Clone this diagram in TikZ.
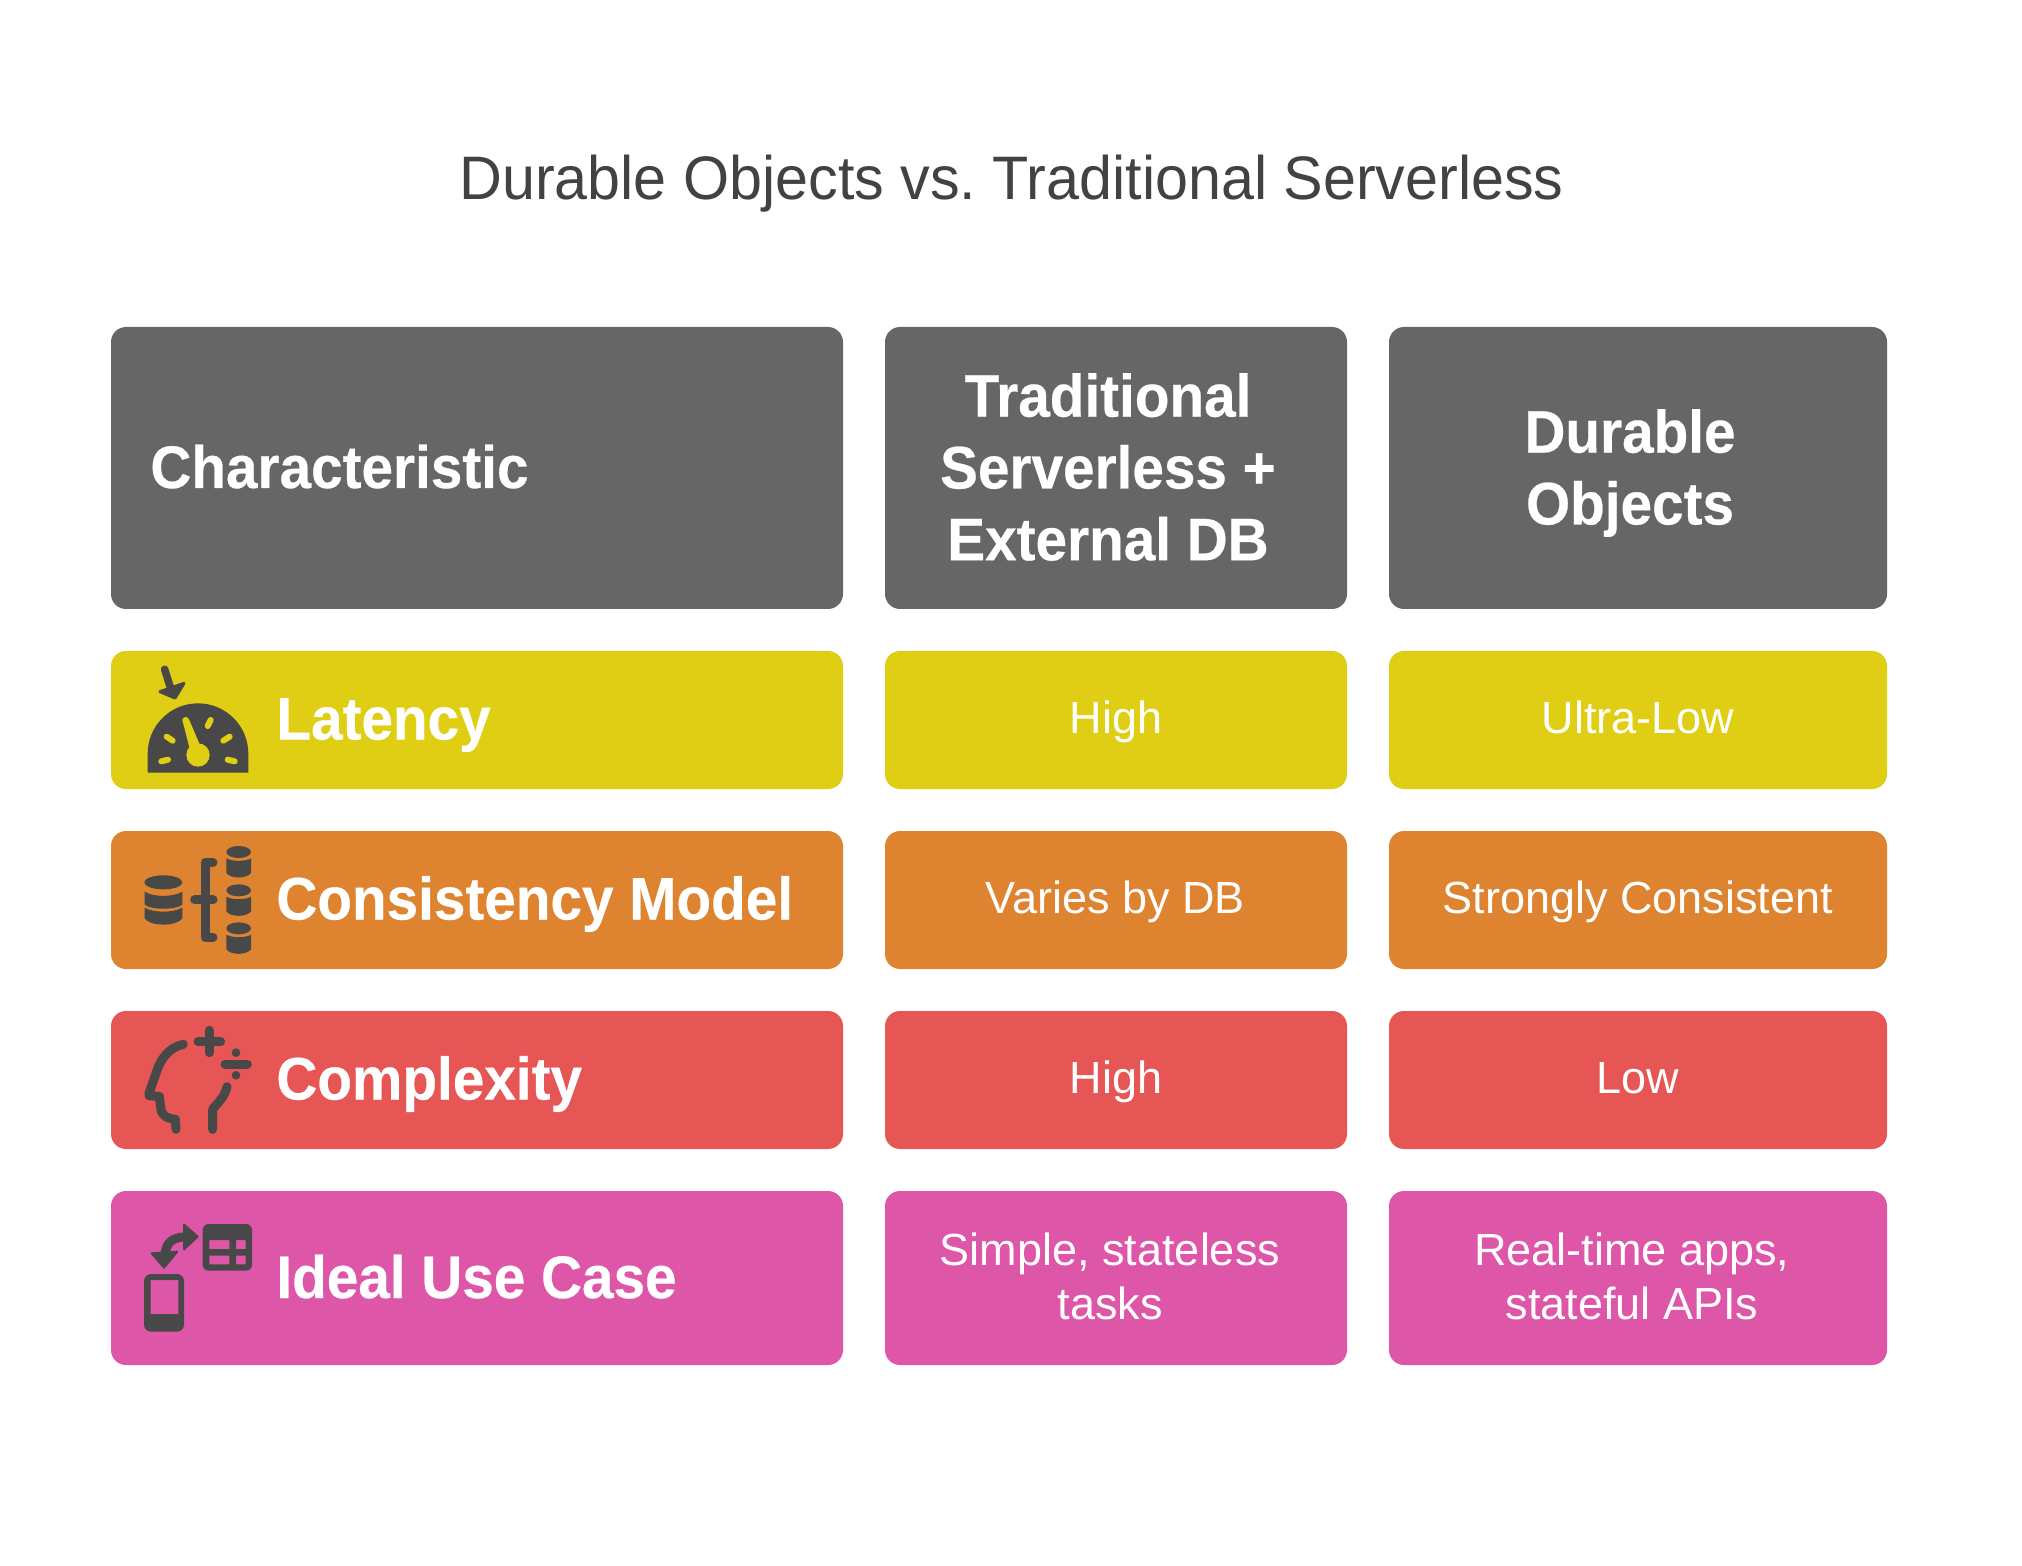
\documentclass[tikz,border=0pt]{standalone}
\usepackage{fontspec}
\setmainfont[BoldFeatures={FakeStretch=.945,FakeBold=.4}]{Liberation Sans}
\newfontfamily\titlefont[FakeStretch=.965]{Liberation Sans}
\frenchspacing
\definecolor{titlegray}{HTML}{424242}
\definecolor{icongray}{HTML}{484848}
\definecolor{headgray}{HTML}{666666}
\definecolor{latyellow}{HTML}{E0CE14}
\definecolor{consorange}{HTML}{DE8430}
\definecolor{compred}{HTML}{E65655}
\definecolor{usepink}{HTML}{DE56A8}
\tikzset{
  cellbox/.style={fill=#1,rounded corners=7.5pt},
  headtext/.style={text=white,font=\bfseries\fontsize{30}{35.9}\selectfont,align=center,inner sep=0pt},
  keytext/.style={text=white,font=\bfseries\fontsize{30}{35.9}\selectfont,anchor=base west,inner sep=0pt},
  celltext/.style={text=white,font=\fontsize{22.5}{27}\selectfont,align=center,inner sep=0pt},
  iconfill/.style={fill=icongray,draw=none},
  iconline/.style={draw=icongray,line width=4.5pt,line cap=round,line join=round},
  iconzoom/.style={shift={#1},x=.16667pt,y=-.16667pt}
}
\begin{document}
\begin{tikzpicture}[x=.5pt,y=-.5pt]
  \fill[white,use as bounding box] (0,0) rectangle (2022,1566);
  \node[text=titlegray,font=\titlefont\fontsize{30.7}{34}\selectfont,inner sep=0pt,anchor=base] (title) at (1011.5,200) {Durable Objects vs. Traditional Serverless};
  % header row
  \fill[cellbox=headgray] (111,327) rectangle (843,609);
  \fill[cellbox=headgray] (885,327) rectangle (1347,609);
  \fill[cellbox=headgray] (1389,327) rectangle (1887,609);
  \node[keytext] (charhead) at (150,488) {Characteristic};
  \node[headtext] (tradhead) at (1108,467) {Traditional\\Serverless +\\External DB};
  \node[headtext] (durhead) at (1630,473) {Durable\\Objects};
  % rows
  \fill[cellbox=latyellow] (111,651) rectangle (843,789);
  \fill[cellbox=latyellow] (885,651) rectangle (1347,789);
  \fill[cellbox=latyellow] (1389,651) rectangle (1887,789);
  \fill[cellbox=consorange] (111,831) rectangle (843,969);
  \fill[cellbox=consorange] (885,831) rectangle (1347,969);
  \fill[cellbox=consorange] (1389,831) rectangle (1887,969);
  \fill[cellbox=compred] (111,1011) rectangle (843,1149);
  \fill[cellbox=compred] (885,1011) rectangle (1347,1149);
  \fill[cellbox=compred] (1389,1011) rectangle (1887,1149);
  \fill[cellbox=usepink] (111,1191) rectangle (843,1365);
  \fill[cellbox=usepink] (885,1191) rectangle (1347,1365);
  \fill[cellbox=usepink] (1389,1191) rectangle (1887,1365);
  \node[keytext] (latkey) at (276,739.5) {Latency};
  \node[keytext] (conskey) at (276,919.5) {Consistency Model};
  \node[keytext] (compkey) at (276,1099.5) {Complexity};
  \node[keytext] (usekey) at (276,1298) {Ideal Use Case};
  \node[celltext,anchor=base] (lattrad) at (1116,733.5) {High};
  \node[celltext,anchor=base] (latdur) at (1638,733.5) {Ultra-Low};
  \node[celltext,anchor=base] (constrad) at (1115,913.5) {Varies by DB};
  \node[celltext,anchor=base] (consdur) at (1638,913.5) {Strongly Consistent};
  \node[celltext,anchor=base] (comptrad) at (1116,1093.5) {High};
  \node[celltext,anchor=base] (compdur) at (1638,1093.5) {Low};
  \node[celltext] (usetrad) at (1110,1276) {Simple, stateless\\tasks};
  \node[celltext] (usedur) at (1632,1276) {Real-time apps,\\stateful APIs};
  % latency icon
  \begin{scope}[iconzoom={(100,640)}]
    \fill[iconfill] (143,398) -- (143,341) arc[start angle=180,end angle=360,radius=151] -- (445,398) -- cycle;
    \fill[latyellow] (294,345) circle (35);
    \fill[latyellow] (247,240) .. controls (250,228) and (264,228) .. (268,240) -- (304,325) -- (270,330) -- cycle;
    \draw[latyellow,line width=3pt,line cap=round] (184,364) -- (204,359);
    \draw[latyellow,line width=3pt,line cap=round] (200,290) -- (218,302);
    \draw[latyellow,line width=3pt,line cap=round] (332,240) -- (323,258);
    \draw[latyellow,line width=3pt,line cap=round] (389,290) -- (370,302);
    \draw[latyellow,line width=3pt,line cap=round] (383,359) -- (404,364);
    \draw[iconline,line width=3.8pt] (194,88) -- (212,145);
    \fill[iconfill,draw=icongray,line width=1.5pt,line join=round] (180,155) -- (252,130) -- (225,174) -- cycle;
  \end{scope}
  % consistency icon
  \begin{scope}[iconzoom={(100,830)}]
    \fill[iconfill] (190,157) ellipse (57 and 21);
    \fill[iconfill] (134,185) .. controls (160,202) and (220,202) .. (247,185) -- (247,224) .. controls (230,240) and (150,240) .. (134,224) -- cycle;
    \fill[iconfill] (134,233) .. controls (160,249) and (220,249) .. (247,233) -- (247,265) .. controls (230,290) and (150,290) .. (134,265) -- cycle;
    \foreach \cy in {66,181,295} {
      \fill[iconfill] (416,\cy) ellipse (37 and 18);
      \fill[iconfill] (379,\cy+19) .. controls (395,\cy+29) and (437,\cy+29) .. (453,\cy+19) -- (453,\cy+63) .. controls (440,\cy+81) and (392,\cy+81) .. (379,\cy+63) -- cycle;
    }
    \draw[iconline] (339,97) -- (315,97) -- (315,322) -- (339,322);
    \draw[iconline] (284,209) -- (339,209);
  \end{scope}
  % complexity icon
  \begin{scope}[iconzoom={(100,1010)}]
    \draw[iconline] (250,103) .. controls (205,112) and (180,150) .. (168,190) -- (147,250) -- (147,257) -- (178,259) -- (183,300) .. controls (190,322) and (205,325) .. (226,328) -- (228,358);
    \draw[iconline] (381,230) .. controls (372,265) and (355,275) .. (338,298) -- (338,358);
    \draw[iconline] (294,95) -- (362,95);
    \draw[iconline] (328,61) -- (328,128);
    \draw[iconline] (375,162) -- (442,162);
    \fill[iconfill] (408,128) circle (13);
    \fill[iconfill] (408,196) circle (13);
  \end{scope}
  % use case icon
  \begin{scope}[iconzoom={(100,1200)}]
    \fill[iconfill,even odd rule,rounded corners=3pt] (308,72) rectangle (456,212) (328,120) [sharp corners] rectangle (388,147) (408,120) rectangle (437,147) (328,167) rectangle (388,193) (408,167) rectangle (437,193);
    \fill[iconfill,even odd rule,rounded corners=3.5pt] (132,222) rectangle (252,395) [sharp corners] (152,240) rectangle (235,342);
    \draw[iconline,line cap=butt] (195,170) .. controls (195,125) and (220,112) .. (260,110);
    \fill[iconfill,draw=icongray,line width=1pt,line join=round] (252,74) -- (293,110) -- (252,148) -- cycle;
    \fill[iconfill,draw=icongray,line width=1pt,line join=round] (155,160) -- (232,155) -- (192,203) -- cycle;
  \end{scope}
\end{tikzpicture}
\end{document}
